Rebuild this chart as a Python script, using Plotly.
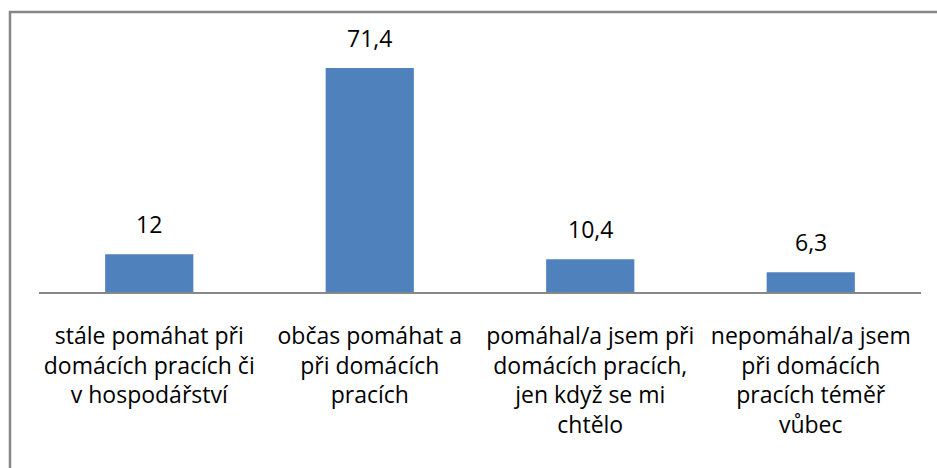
import plotly.graph_objects as go

categories = [
    "stále pomáhat při<br>domácích pracích či<br>v hospodářství",
    "občas pomáhat a<br>při domácích<br>pracích",
    "pomáhal/a jsem při<br>domácích pracích,<br>jen když se mi<br>chtělo",
    "nepomáhal/a jsem<br>při domácích<br>pracích téměř<br>vůbec",
]
values = [12, 71.4, 10.4, 6.3]
value_labels = [("%g" % v).replace(".", ",") for v in values]

FONT = "Open Sans, Carlito, Calibri, sans-serif"
FS = 23

fig = go.Figure(
    go.Bar(
        x=categories,
        y=values,
        marker=dict(color="#4F81BD", line=dict(width=0)),
        width=0.4,
        hoverinfo="skip",
    )
)

for c, v, t in zip(categories, values, value_labels):
    fig.add_annotation(
        x=c, y=v, text=t, showarrow=False, yanchor="bottom", yshift=12,
        font=dict(family=FONT, size=FS, color="#000000"),
    )

# outer chart border
fig.add_shape(
    type="rect", xref="paper", yref="paper",
    x0=-0.0329, x1=1.2, y0=-1.5, y1=1.1155,
    line=dict(color="#878787", width=2.5), fillcolor="rgba(0,0,0,0)",
)

fig.update_layout(
    width=937, height=468,
    margin=dict(l=39, r=16, t=41, b=176),
    paper_bgcolor="white", plot_bgcolor="white",
    showlegend=False,
    font=dict(family=FONT, size=FS, color="#000000"),
    bargap=0.6,
)
fig.update_xaxes(
    showline=True, linecolor="#878787", linewidth=2,
    showgrid=False, ticks="", zeroline=False,
    tickfont=dict(family=FONT, size=FS, color="#000000"),
    ticklabelstandoff=22,
)
fig.update_yaxes(
    range=[0, 80], visible=False, showgrid=False, zeroline=False,
)

fig.write_html(
    "out.html",
    config={"displayModeBar": False},
    post_script="document.body.style.margin='0';document.body.style.overflow='hidden';",
)
